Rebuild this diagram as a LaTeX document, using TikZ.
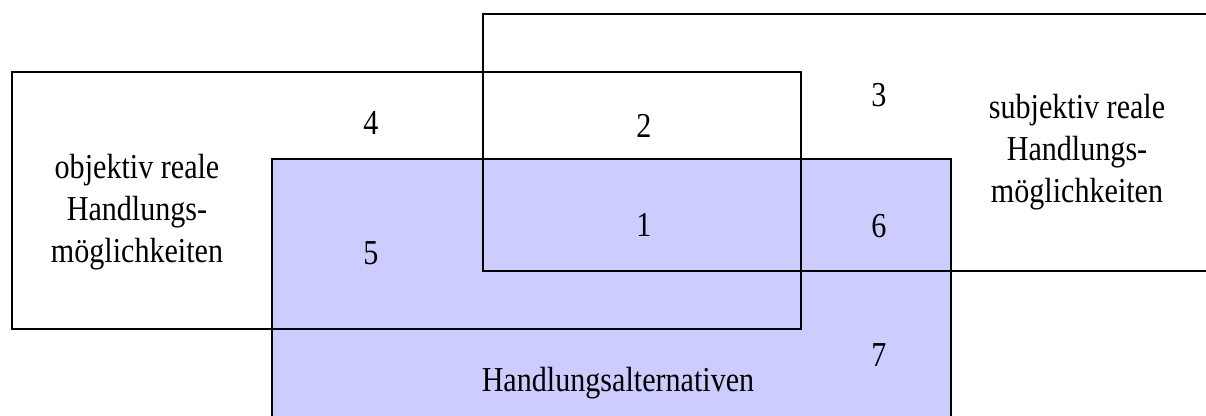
\documentclass[tikz,border=0pt]{standalone}
\usepackage{fontspec}
\setmainfont{Liberation Serif}
\definecolor{altblue}{RGB}{204,204,255}
\newcommand{\cnd}[1]{\scalebox{0.86}[1]{#1}}
\begin{document}
\begin{tikzpicture}[x=1pt,y=-1pt,
  frame/.style={draw=black,line width=2.8pt},
  lbl/.style={inner sep=0pt,align=center,font=\fontsize{35}{42}\selectfont},
  num/.style={inner sep=0pt,font=\fontsize{35}{40}\selectfont}]
\useasboundingbox (0,0) rectangle (1206,415);
\clip (0,0) rectangle (1206,415);
% Handlungsalternativen (filled)
\fill[altblue] (272,159) rectangle (951,430);
% outlines
\draw[frame] (272,430) -- (272,159) -- (951,159) -- (951,430);
\draw[frame] (12,72) rectangle (801,329);
\draw[frame] (1230,14) -- (483,14) -- (483,271) -- (1230,271);
% labels
\node[lbl] (obj) at (137,212) {\cnd{objektiv reale}\\\cnd{Handlungs-}\\\cnd{möglichkeiten}};
\node[lbl] (subj) at (1077,152) {\cnd{subjektiv reale}\\\cnd{Handlungs-}\\\cnd{möglichkeiten}};
\node[lbl] (alt) at (618,383) {\cnd{Handlungsalternativen}};
\node[num] (n1) at (644,225) {\cnd{1}};
\node[num] (n2) at (644,126) {\cnd{2}};
\node[num] (n3) at (879,95) {\cnd{3}};
\node[num] (n4) at (371,123) {\cnd{4}};
\node[num] (n5) at (371,253) {\cnd{5}};
\node[num] (n6) at (879,226) {\cnd{6}};
\node[num] (n7) at (879,355) {\cnd{7}};
\end{tikzpicture}
\end{document}
